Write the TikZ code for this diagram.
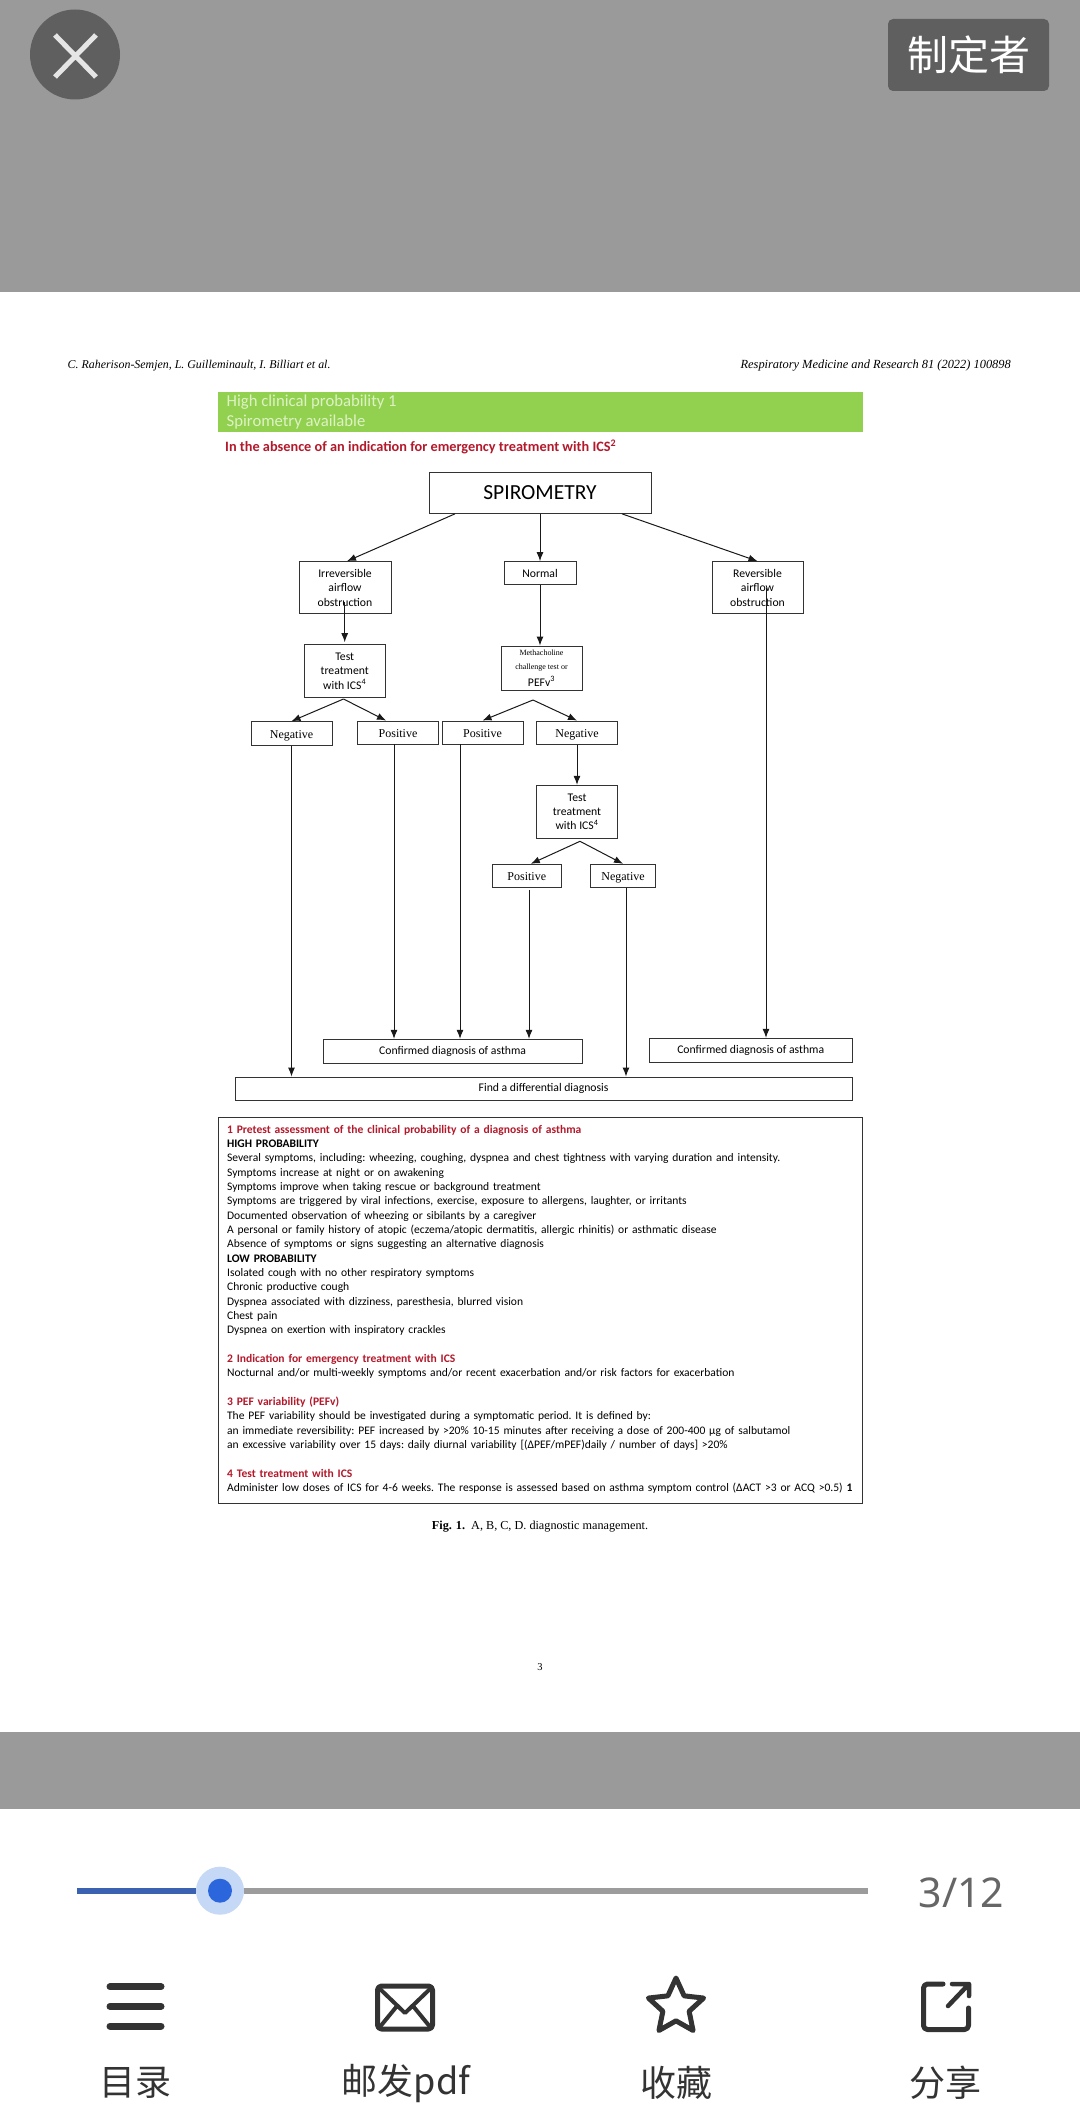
\documentclass[tikz,border=0pt]{standalone}
\usepackage{fontspec}
\usepackage{tikz}
\usetikzlibrary{arrows.meta,shapes.geometric}
\setmainfont{Liberation Serif}
\newfontfamily\calibrifont{Carlito}
\newfontfamily\cjkfont{Noto Sans CJK SC}
\newfontfamily\uifont{Noto Sans}
\definecolor{screengray}{HTML}{9A9A9A}
\definecolor{buttongray}{HTML}{5F5F5F}
\definecolor{bannergreen}{HTML}{92D050}
\definecolor{bannertext}{HTML}{DDF2C4}
\definecolor{noteared}{HTML}{B3192B}
\definecolor{iconblack}{HTML}{333333}
\definecolor{sliderblue}{HTML}{3A62B0}
\definecolor{knobblue}{HTML}{2B66DD}
\definecolor{knobhalo}{HTML}{C5D8F5}
\definecolor{railgray}{HTML}{9C9C9C}
\newcommand{\noteshead}[1]{\textcolor{noteared}{\textbf{#1}}}
\newcommand{\tinyserif}[1]{{\rmfamily\fontsize{8}{9.7}\selectfont #1}}

\begin{document}
\begin{tikzpicture}[x=1pt,y=-1pt,
    flowbox/.style={draw=black!80,line width=1,inner sep=0pt,align=center,
      font=\calibrifont\fontsize{11.7}{14.33}\selectfont},
    answerbox/.style={flowbox,text height=9pt,text depth=0pt,font=\fontsize{12}{14}\selectfont},
    flowarrow/.style={-{Latex[length=9pt,width=7pt]},line width=1,draw=black!90},
    iconline/.style={draw=iconblack,line width=5,line cap=round,line join=round},
    iconlabel/.style={text=iconblack,font=\cjkfont\fontsize{36}{38}\selectfont}]
  \useasboundingbox (0,0) rectangle (1080,2116);
  % screen
  \fill[white] (0,0) rectangle (1080,2116);
  \fill[screengray] (0,0) rectangle (1080,292);
  \fill[screengray] (0,1732) rectangle (1080,1809);
  % top bar
  \begin{scope}
    \fill[buttongray] (75,54.5) circle (45);
    \draw[line width=5,draw=black!10] (55,35) -- (96,77) (96,35) -- (55,77);
    \node[fill=buttongray,rounded corners=5,minimum width=161,minimum height=72,inner sep=0pt,
      text=white,font=\cjkfont\fontsize{41}{44}\selectfont] (makerbtn) at (968.5,55) {制定者};
  \end{scope}
  % running heads
  \node[anchor=west,inner sep=0pt,font=\itshape\fontsize{11.9}{13}\selectfont] (headleft) at (67.5,366)
    {C. Raherison-Semjen, L. Guilleminault, I. Billiart et al.};
  \node[anchor=east,inner sep=0pt,font=\itshape\fontsize{12.4}{13}\selectfont] (headright) at (1011,366)
    {Respiratory Medicine and Research 81 (2022) 100898};
  % banner
  \node[fill=bannergreen,minimum width=645,minimum height=40,inner sep=0pt] (banner) at (540,412.3) {};
  \node[anchor=west,inner sep=0pt,text=bannertext,font=\calibrifont\fontsize{16.7}{20}\selectfont] (bannerone) at (226.5,402) {High clinical probability 1};
  \node[anchor=west,inner sep=0pt,text=bannertext,font=\calibrifont\fontsize{16.7}{20}\selectfont] (bannertwo) at (226.5,422) {Spirometry available};
  \node[anchor=west,inner sep=0pt,text=noteared,font=\calibrifont\bfseries\fontsize{14.3}{16}\selectfont] (warning) at (225,446.7)
    {In the absence of an indication for emergency treatment with ICS\textsuperscript{2}};
  % flow boxes
  \node[flowbox,minimum width=222,minimum height=41.3,font=\calibrifont\fontsize{21.5}{24}\selectfont] (spiro) at (540,492.7) {SPIROMETRY};
  \node[flowbox,minimum width=92,minimum height=52.3] (irrev) at (345,587.8) {Irreversible\\airflow\\obstruction};
  \node[flowbox,minimum width=72,minimum height=23.3] (normal) at (540,573.3) {Normal};
  \node[flowbox,minimum width=91,minimum height=52.3] (rev) at (757.5,587.8) {Reversible\\airflow\\obstruction};
  \node[flowbox,minimum width=80.6,minimum height=52.6] (testa) at (344.7,671) {Test\\treatment\\with ICS\textsuperscript{4}};
  \node[flowbox,minimum width=81,minimum height=44.3] (metha) at (541.5,668.2)
    {\tinyserif{Methacholine}\\\tinyserif{challenge test or}\\[2pt]PEFv\textsuperscript{3}};
  \node[answerbox,minimum width=81,minimum height=23.6] (nega) at (291.5,733.5) {Negative};
  \node[answerbox,minimum width=81,minimum height=23.3] (posa) at (398,732.7) {Positive};
  \node[answerbox,minimum width=81,minimum height=23.3] (posb) at (482.5,732.7) {Positive};
  \node[answerbox,minimum width=81,minimum height=23.3] (negb) at (577,732.7) {Negative};
  \node[flowbox,minimum width=81,minimum height=52.7] (testb) at (577,811.7) {Test\\treatment\\with ICS\textsuperscript{4}};
  \node[answerbox,minimum width=69,minimum height=23.4] (posc) at (526.8,876) {Positive};
  \node[answerbox,minimum width=64.3,minimum height=23.4] (negc) at (623,876) {Negative};
  \node[flowbox,minimum width=259,minimum height=23.7] (confa) at (452.6,1051.2) {Confirmed diagnosis of asthma};
  \node[flowbox,minimum width=203,minimum height=23.7] (confb) at (750.7,1050.2) {Confirmed diagnosis of asthma};
  \node[flowbox,minimum width=617,minimum height=23.3] (diff) at (543.6,1088.7) {Find a differential diagnosis};
  % free ends
  \coordinate (forka) at (343.5,699);
  \coordinate (forkb) at (533,700);
  \coordinate (forkc) at (580,841.3);
  \coordinate (irrevdrop) at (344.7,601.7);
  \coordinate (revdrop) at (766,588);
  \coordinate (posadrop) at (394,744.3);
  \coordinate (posbdrop) at (460,744.3);
  \coordinate (poscdrop) at (529,890);
  \coordinate (negcdrop) at (626,887.7);
  % connectors
  \draw[flowarrow] ([xshift=-85pt]spiro.south) -- ([xshift=2pt]irrev.north);
  \draw[flowarrow] (spiro.south) -- (normal.north);
  \draw[flowarrow] ([xshift=82pt]spiro.south) -- (rev.north);
  \draw[flowarrow] (irrevdrop) -- ([yshift=2pt]testa.north);
  \draw[flowarrow] (normal.south) -- (normal.south |- metha.north);
  \draw[flowarrow] (revdrop) -- (revdrop |- confb.north);
  \draw[flowarrow] (forka) -- (nega.north);
  \draw[flowarrow] (forka) -- ([xshift=-12pt]posa.north);
  \draw[flowarrow] (forkb) -- (posb.north);
  \draw[flowarrow] (forkb) -- (negb.north);
  \draw[flowarrow] (negb.south) -- (testb.north);
  \draw[flowarrow] (forkc) -- ([xshift=4pt]posc.north);
  \draw[flowarrow] (forkc) -- (negc.north);
  \draw[flowarrow] (nega.south) -- (nega.south |- diff.north);
  \draw[flowarrow] (posadrop) -- (posadrop |- confa.north);
  \draw[flowarrow] (posbdrop) -- (posbdrop |- confa.north);
  \draw[flowarrow] (poscdrop) -- (poscdrop |- confa.north);
  \draw[flowarrow] (negcdrop) -- (negcdrop |- diff.north);
  % notes under the chart
  \node[draw=black!80,line width=1,anchor=north west,minimum height=385.4,text width=626,
    inner xsep=9,inner ysep=5,align=left,
    font=\calibrifont\frenchspacing\fontsize{11.55}{14.33}\selectfont] (notes) at (217.6,1117.3) {%
    \noteshead{1 Pretest assessment of the clinical probability of a diagnosis of asthma}\\
    \textbf{HIGH PROBABILITY}\\
    Several symptoms, including: wheezing, coughing, dyspnea and chest tightness with varying duration and intensity.\\
    Symptoms increase at night or on awakening\\
    Symptoms improve when taking rescue or background treatment\\
    Symptoms are triggered by viral infections, exercise, exposure to allergens, laughter, or irritants\\
    Documented observation of wheezing or sibilants by a caregiver\\
    A personal or family history of atopic (eczema/atopic dermatitis, allergic rhinitis) or asthmatic disease\\
    Absence of symptoms or signs suggesting an alternative diagnosis\\
    \textbf{LOW PROBABILITY}\\
    Isolated cough with no other respiratory symptoms\\
    Chronic productive cough\\
    Dyspnea associated with dizziness, paresthesia, blurred vision\\
    Chest pain\\
    Dyspnea on exertion with inspiratory crackles\\
    ~\\
    \noteshead{2 Indication for emergency treatment with ICS}\\
    Nocturnal and/or multi-weekly symptoms and/or recent exacerbation and/or risk factors for exacerbation\\
    ~\\
    \noteshead{3 PEF variability (PEFv)}\\
    The PEF variability should be investigated during a symptomatic period. It is defined by:\\
    an immediate reversibility: PEF increased by >20\% 10-15 minutes after receiving a dose of 200-400 µg of salbutamol\\
    an excessive variability over 15 days: daily diurnal variability [(ΔPEF/mPEF)daily / number of days] >20\%\\
    ~\\
    \noteshead{4 Test treatment with ICS}\\
    Administer low doses of ICS for 4-6 weeks. The response is assessed based on asthma symptom control (ΔACT >3 or ACQ >0.5) \textbf{1}\vspace{2.7pt}};
  % caption and page number
  \node[font=\fontsize{12.2}{14}\selectfont] (caption) at (540,1526.7) {\textbf{Fig. 1.}\ \ A, B, C, D. diagnostic management.};
  \node[font=\fontsize{10.5}{12}\selectfont] (pagenum) at (540,1667) {3};
  % slider
  \draw[line width=5.7,draw=railgray] (244,1890.7) -- (868,1890.7);
  \draw[line width=5.7,draw=sliderblue] (77,1890.7) -- (196,1890.7);
  \fill[knobhalo] (220,1890.7) circle (24);
  \fill[knobblue] (220,1890.7) circle (12);
  \node[text=black!60,font=\uifont\fontsize{41}{44}\selectfont] (pagecount) at (961.5,1893) {3/12};
  % toolbar icons
  \draw[line width=7,line cap=round,draw=iconblack] (110,1986.7) -- (161,1986.7) (110,2006.3) -- (161,2006.3) (110,2026) -- (161,2026);
  \draw[iconline,rounded corners=4] (377.5,1986) rectangle (432.5,2029);
  \draw[iconline,line width=4] (379,1988) -- (405,2013) -- (431,1988) (379,2028) -- (397,2006) (431,2028) -- (413,2006);
  \node[star,star points=5,star point ratio=2.1,draw=iconblack,line width=5,line join=round,minimum size=58,inner sep=0pt] (favstar) at (676,2007) {};
  \draw[iconline,rounded corners=4] (943,1984) -- (923.5,1984) -- (923.5,2029.5) -- (968.5,2029.5) -- (968.5,2008);
  \draw[iconline,line width=4.5] (948,2006) -- (969,1984) (952,1984) -- (969,1984) -- (969,1996);
  % toolbar labels
  \node[iconlabel] (toc) at (135.5,2083) {目录};
  \node[iconlabel] (mailpdf) at (406,2083) {邮发pdf};
  \node[iconlabel] (collect) at (676,2083) {收藏};
  \node[iconlabel] (sharing) at (945,2083) {分享};
\end{tikzpicture}
\end{document}
